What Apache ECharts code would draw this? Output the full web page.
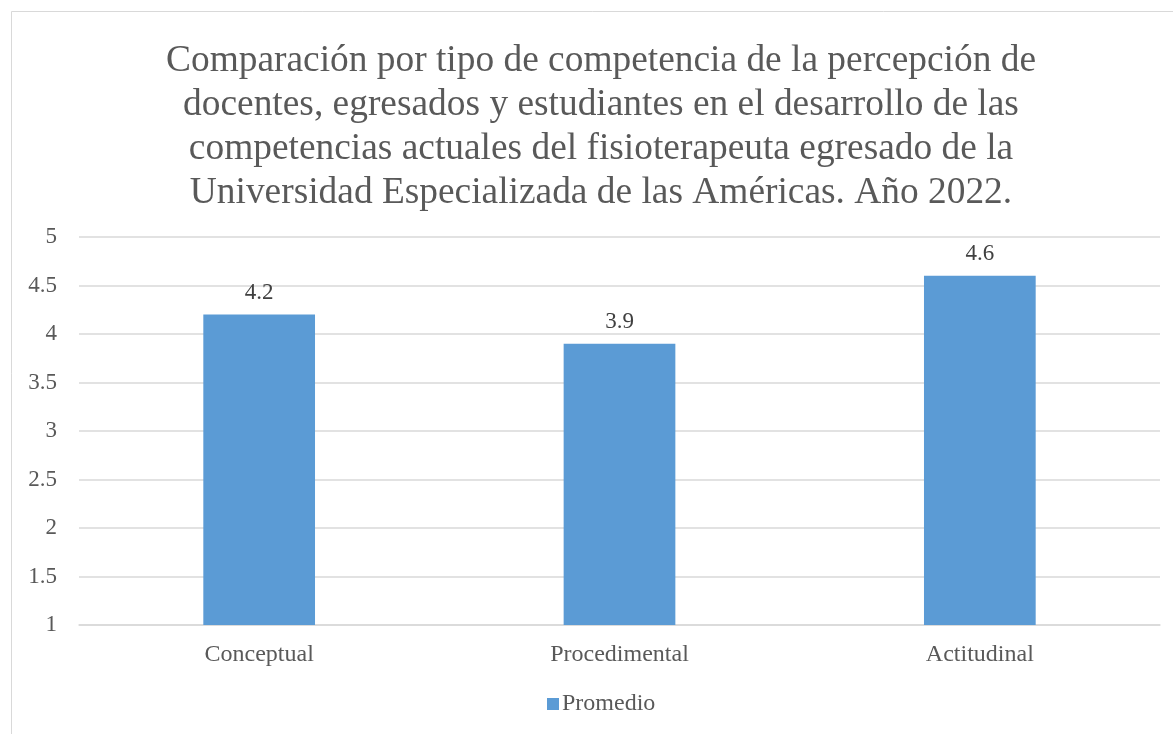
<!DOCTYPE html>
<html>
<head>
<meta charset="utf-8">
<script src="https://cdn.jsdelivr.net/npm/echarts@6/dist/echarts.min.js"></script>
<style>
  html, body { margin: 0; padding: 0; background: #fff; }
  #chart { width: 1173px; height: 734px; }
</style>
</head>
<body>
<div id="chart"></div>
<script>
  // categorías y valores promedio
  const categories = ['Conceptual', 'Procedimental', 'Actitudinal']
  const promedio = [4.2, 3.9, 4.6]
  const titleText = 'Comparación por tipo de competencia de la percepción de\n' +
    'docentes, egresados y estudiantes en el desarrollo de las\n' +
    'competencias actuales del fisioterapeuta egresado de la\n' +
    'Universidad Especializada de las Américas. Año 2022.'

  const font = 'Liberation Serif'
  const chart = echarts.init(document.getElementById('chart'))

  chart.setOption({
    animation: false,
    backgroundColor: '#fff',
    graphic: [
      {
        type: 'rect',
        shape: { x: 11.5, y: 11.5, width: 1180, height: 740 },
        style: { fill: 'none', stroke: '#d9d9d9', lineWidth: 1 }
      }
    ],
    title: {
      text: titleText,
      left: 596,
      textAlign: 'center',
      top: 34,
      textStyle: {
        fontFamily: font,
        fontSize: 37.4,
        fontWeight: 'normal',
        color: '#595959',
        lineHeight: 44
      }
    },
    legend: {
      bottom: 13,
      left: 542,
      itemWidth: 12,
      itemHeight: 12,
      itemGap: 4,
      icon: 'rect',
      data: ['Promedio'],
      textStyle: { fontFamily: font, fontSize: 24, color: '#595959', padding: [0, 0, 0, -2] }
    },
    grid: { left: 79, right: 13, top: 237, bottom: 109 },
    xAxis: {
      type: 'category',
      data: categories,
      axisLine: { lineStyle: { color: '#d9d9d9', width: 1.5 } },
      axisTick: { show: false },
      axisLabel: { fontFamily: font, fontSize: 24, color: '#595959', margin: 18 }
    },
    yAxis: {
      type: 'value',
      min: 1,
      max: 5,
      interval: 0.5,
      axisLine: { show: false },
      axisTick: { show: false },
      splitLine: { lineStyle: { color: '#d9d9d9', width: 1.5 } },
      axisLabel: { fontFamily: font, fontSize: 23, color: '#595959', margin: 22 }
    },
    series: [
      {
        name: 'Promedio',
        type: 'bar',
        data: promedio,
        barWidth: '31%',
        itemStyle: { color: '#5b9bd5' },
        label: {
          show: true,
          position: 'top',
          distance: 10,
          fontFamily: font,
          fontSize: 23,
          color: '#404040'
        }
      }
    ]
  })
</script>
</body>
</html>
